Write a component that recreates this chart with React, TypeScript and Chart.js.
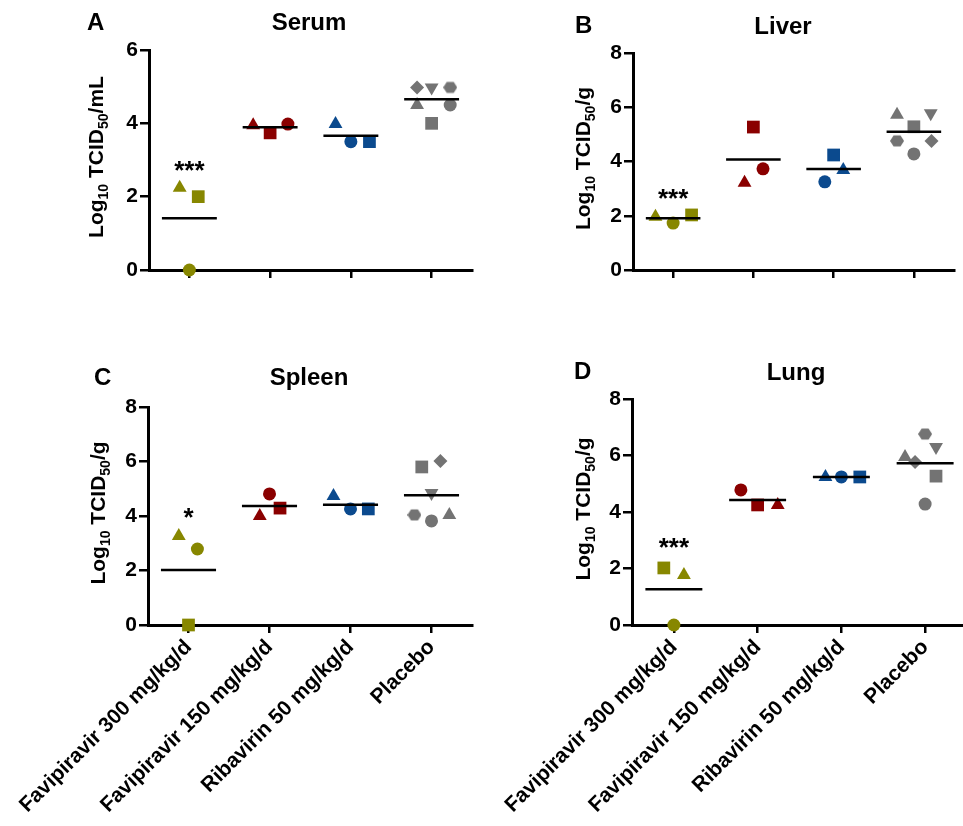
import React, { useEffect, useRef } from 'react';
import { Chart, registerables } from 'chart.js';
Chart.register(...registerables);

const FONT = '"Liberation Sans", Arial, Helvetica, sans-serif';

const categories = ['Favipiravir 300 mg/kg/d', 'Favipiravir 150 mg/kg/d', 'Ribavirin 50 mg/kg/d', 'Placebo'];
const groupColors = ['#878700', '#8a0000', '#0b4a8e', '#737373'];

// Serum (A)
const serumValues = [[2.24, 2.0, 0], [3.95, 3.74, 3.98], [3.98, 3.5, 3.5], [4.98, 4.98, 4.98, 4.5, 4.5, 4.0]];
const serumShapes = [
  ['triangle', 'square', 'circle'],
  ['triangle', 'square', 'circle'],
  ['triangle', 'circle', 'square'],
  ['diamond', 'triangleDown', 'hexagon', 'triangle', 'circle', 'square'],
];
const serumJitter = [[-0.12, 0.11, 0], [-0.21, 0, 0.22], [-0.19, 0, 0.23], [-0.18, 0, 0.23, -0.18, 0.23, 0]];

// Liver (B)
const liverValues = [[1.96, 1.73, 2.03], [5.27, 3.22, 3.73], [4.24, 3.25, 3.69], [5.72, 5.78, 5.28, 4.76, 4.76, 4.28]];
const liverShapes = [
  ['triangle', 'circle', 'square'],
  ['square', 'triangle', 'circle'],
  ['square', 'circle', 'triangle'],
  ['triangle', 'triangleDown', 'square', 'hexagon', 'diamond', 'circle'],
];
const liverJitter = [[-0.22, 0, 0.23], [0, -0.11, 0.12], [0, -0.11, 0.12], [-0.21, 0.21, 0, -0.21, 0.22, 0]];

// Spleen (C)
const spleenValues = [[3.27, 2.79, 0], [4.81, 4.0, 4.29], [4.73, 4.26, 4.26], [5.8, 6.02, 4.84, 4.04, 3.82, 4.04]];
const spleenShapes = [
  ['triangle', 'circle', 'square'],
  ['circle', 'triangle', 'square'],
  ['triangle', 'circle', 'square'],
  ['square', 'diamond', 'triangleDown', 'hexagon', 'circle', 'triangle'],
];
const spleenJitter = [[-0.12, 0.11, 0], [0, -0.12, 0.13], [-0.21, 0, 0.22], [-0.12, 0.11, 0, -0.21, 0, 0.22]];

// Lung (D)
const lungValues = [[2.02, 1.77, 0], [4.78, 4.25, 4.25], [5.24, 5.24, 5.24], [6.76, 6.3, 5.95, 5.77, 5.27, 4.28]];
const lungShapes = [
  ['square', 'triangle', 'circle'],
  ['circle', 'square', 'triangle'],
  ['triangle', 'circle', 'square'],
  ['hexagon', 'triangleDown', 'triangle', 'diamond', 'square', 'circle'],
];
const lungJitter = [[-0.12, 0.12, 0], [-0.2, 0, 0.24], [-0.19, 0, 0.22], [0, 0.13, -0.24, -0.12, 0.13, 0]];

const significance = ['***', '***', '*', '***'];
const significanceY = [2.9, 2.88, 4.2, 2.98];
const yTicksSerum = [0, 2, 4, 6];
const yTicksTissue = [0, 2, 4, 6, 8];

const MEAN_HALF = 0.34;

const hexCache: Record<string, HTMLCanvasElement> = {};
function hexagon(color: string) {
  if (hexCache[color]) return hexCache[color];
  const c = document.createElement('canvas');
  c.width = 14;
  c.height = 14;
  const g = c.getContext('2d')!;
  g.fillStyle = color;
  g.beginPath();
  for (let i = 0; i < 6; i++) {
    const a = (Math.PI / 3) * i;
    const px = 7 + 7 * Math.cos(a);
    const py = 7 + 6.3 * Math.sin(a);
    if (i === 0) g.moveTo(px, py);
    else g.lineTo(px, py);
  }
  g.closePath();
  g.fill();
  hexCache[color] = c;
  return c;
}

function styleOf(shape: string, color: string): any {
  switch (shape) {
    case 'square': return 'rect';
    case 'triangle':
    case 'triangleDown': return 'triangle';
    case 'diamond': return 'rectRot';
    case 'hexagon': return hexagon(color);
    default: return 'circle';
  }
}
function radiusOf(shape: string) {
  switch (shape) {
    case 'square': return 9;
    case 'triangle':
    case 'triangleDown': return 8;
    case 'diamond': return 7;
    default: return 6.5;
  }
}

type Panel = {
  key: string;
  values: number[][];
  shapes: string[][];
  jitter: number[][];
  yTicks: number[];
  title: string;
  letter: string;
  unit: string;
  showX: boolean;
  left: number; top: number; w: number; h: number;
  area: { l: number; r: number; t: number; b: number };
  titleX: number; titleY: number; letterX: number; letterY: number; yTitleX: number;
  idx: number;
};

const panels: Panel[] = [
  { key: 'A', values: serumValues, shapes: serumShapes, jitter: serumJitter, yTicks: yTicksSerum, title: 'Serum', letter: 'A', unit: '/mL', showX: false,
    left: 0, top: 0, w: 481, h: 340, area: { l: 149, r: 477, t: 50, b: 270 }, titleX: 309, titleY: 30, letterX: 87, letterY: 30, yTitleX: 103, idx: 0 },
  { key: 'B', values: liverValues, shapes: liverShapes, jitter: liverJitter, yTicks: yTicksTissue, title: 'Liver', letter: 'B', unit: '/g', showX: false,
    left: 481, top: 0, w: 482, h: 340, area: { l: 152, r: 478, t: 53, b: 270 }, titleX: 302, titleY: 34, letterX: 94, letterY: 33, yTitleX: 109, idx: 1 },
  { key: 'C', values: spleenValues, shapes: spleenShapes, jitter: spleenJitter, yTicks: yTicksTissue, title: 'Spleen', letter: 'C', unit: '/g', showX: true,
    left: 0, top: 340, w: 481, h: 486, area: { l: 148, r: 475, t: 67, b: 285 }, titleX: 309, titleY: 45, letterX: 94, letterY: 45, yTitleX: 105, idx: 2 },
  { key: 'D', values: lungValues, shapes: lungShapes, jitter: lungJitter, yTicks: yTicksTissue, title: 'Lung', letter: 'D', unit: '/g', showX: true,
    left: 481, top: 340, w: 495, h: 486, area: { l: 151, r: 489, t: 59, b: 285 }, titleX: 315, titleY: 40, letterX: 93, letterY: 39, yTitleX: 109, idx: 3 },
];

const decorPlugin = {
  id: 'decor',
  afterDraw(chart: any, _args: any, opts: any) {
    const p: Panel = opts.panel;
    if (!p) return;
    const ctx = chart.ctx;
    const xs = chart.scales.x;
    const ys = chart.scales.y;
    ctx.save();
    ctx.fillStyle = '#000';
    ctx.textBaseline = 'alphabetic';
    ctx.font = `bold 24px ${FONT}`;
    ctx.textAlign = 'left';
    ctx.fillText(p.letter, p.letterX, p.letterY);
    ctx.textAlign = 'center';
    ctx.fillText(p.title, p.titleX, p.titleY);
    // significance marks
    ctx.font = `bold 26px ${FONT}`;
    ctx.fillText(significance[p.idx], xs.getPixelForValue(1), ys.getPixelForValue(significanceY[p.idx]) + 15);
    // y axis title with subscripts
    const segs = [
      { t: 'Log', sub: false },
      { t: '10', sub: true },
      { t: ' TCID', sub: false },
      { t: '50', sub: true },
      { t: p.unit, sub: false },
    ];
    const mainFont = `bold 21px ${FONT}`;
    const subFont = `bold 14px ${FONT}`;
    let total = 0;
    for (const s of segs) {
      ctx.font = s.sub ? subFont : mainFont;
      total += ctx.measureText(s.t).width;
    }
    const cy = (chart.chartArea.top + chart.chartArea.bottom) / 2 - 3;
    ctx.translate(p.yTitleX, cy);
    ctx.rotate(-Math.PI / 2);
    ctx.textAlign = 'left';
    let cx = -total / 2;
    for (const s of segs) {
      ctx.font = s.sub ? subFont : mainFont;
      ctx.fillText(s.t, cx, s.sub ? 5 : 0);
      cx += ctx.measureText(s.t).width;
    }
    ctx.restore();
  },
};

function buildConfig(p: Panel): any {
  const datasets: any[] = [];
  p.values.forEach((vals, g) => {
    const mean = vals.reduce((a, b) => a + b, 0) / vals.length;
    datasets.push({
      type: 'line',
      data: [{ x: g + 1 - MEAN_HALF, y: mean }, { x: g + 1 + MEAN_HALF, y: mean }],
      borderColor: '#000',
      borderWidth: 2.5,
      pointRadius: 0,
      fill: false,
      clip: false,
      order: 0,
    });
  });
  p.values.forEach((vals, g) => {
    const color = groupColors[g];
    datasets.push({
      type: 'scatter',
      data: vals.map((v, i) => ({ x: g + 1 + p.jitter[g][i], y: v })),
      pointStyle: p.shapes[g].map((s) => styleOf(s, color)),
      pointRadius: p.shapes[g].map(radiusOf),
      pointRotation: p.shapes[g].map((s) => (s === 'triangleDown' ? 180 : 0)),
      backgroundColor: color,
      borderColor: color,
      borderWidth: 0,
      clip: false,
      order: 1,
    });
  });
  const tickFont = { size: 21, weight: 'bold' as const, family: FONT };
  return {
    data: { datasets },
    options: {
      responsive: false,
      animation: false,
      devicePixelRatio: 1,
      events: [],
      layout: { padding: { left: 0, top: p.area.t, right: p.w - p.area.r, bottom: 0 } },
      plugins: {
        legend: { display: false },
        tooltip: { enabled: false },
        title: { display: false },
        decor: { panel: p },
      },
      scales: {
        x: {
          type: 'linear',
          min: 0.5,
          max: 4.5,
          afterBuildTicks: (s: any) => {
            s.ticks = categories.map((_, i) => ({ value: i + 1 }));
          },
          afterFit: (s: any) => {
            s.height = p.h - p.area.b;
            s.paddingLeft = 0;
            s.paddingRight = 0;
          },
          grid: { drawOnChartArea: false, drawTicks: true, tickLength: 8, color: '#000', lineWidth: 2.5 },
          border: { display: true, color: '#000', width: 3 },
          ticks: {
            display: p.showX,
            autoSkip: false,
            minRotation: 45,
            maxRotation: 45,
            padding: 2,
            color: '#000',
            font: tickFont,
            callback: (v: any) => categories[Math.round(v) - 1] ?? '',
          },
        },
        y: {
          type: 'linear',
          min: p.yTicks[0],
          max: p.yTicks[p.yTicks.length - 1],
          afterBuildTicks: (s: any) => {
            s.ticks = p.yTicks.map((v) => ({ value: v }));
          },
          afterFit: (s: any) => {
            s.width = p.area.l;
          },
          grid: { drawOnChartArea: false, drawTicks: true, tickLength: 9, color: '#000', lineWidth: 2.5 },
          border: { display: true, color: '#000', width: 3 },
          ticks: { padding: 2, color: '#000', font: tickFont },
        },
      },
    },
    plugins: [decorPlugin],
  };
}

function PanelChart({ p }: { p: Panel }) {
  const ref = useRef<HTMLCanvasElement | null>(null);
  useEffect(() => {
    if (!ref.current) return;
    const chart = new Chart(ref.current, buildConfig(p));
    return () => chart.destroy();
  }, [p]);
  return (
    <canvas
      ref={ref}
      width={p.w}
      height={p.h}
      style={{ position: 'absolute', left: p.left, top: p.top, width: p.w, height: p.h }}
    />
  );
}

export default function App() {
  return (
    <div
      style={{
        position: 'fixed',
        left: 0,
        top: 0,
        width: 963,
        height: 826,
        overflow: 'hidden',
        background: '#fff',
      }}
    >
      {panels.map((p) => (
        <PanelChart key={p.key} p={p} />
      ))}
    </div>
  );
}
